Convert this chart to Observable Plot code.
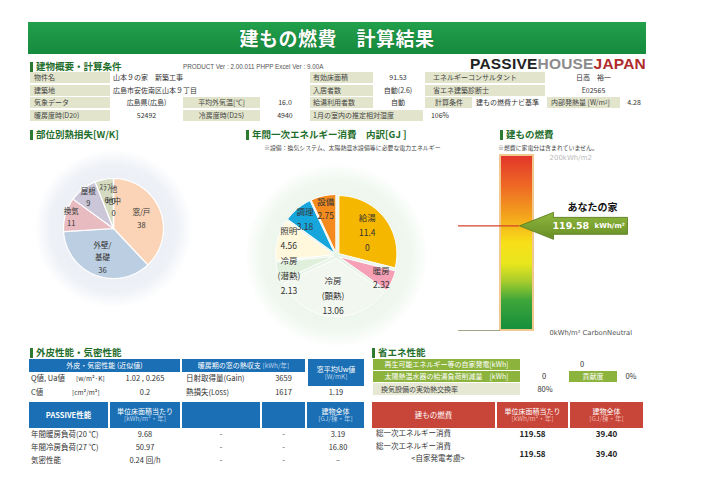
<!DOCTYPE html>
<html><head><meta charset="utf-8">
<script src="https://cdn.jsdelivr.net/npm/d3@7"></script>
<script src="https://cdn.jsdelivr.net/npm/@observablehq/plot@0.6"></script>
<style>
html,body{margin:0;padding:0;background:#fff;}
body{font-family:"Noto Sans CJK JP","Noto Sans",sans-serif;}
#page{position:relative;width:702px;height:496px;overflow:hidden;background:#fff;}
.box{position:absolute;display:flex;align-items:center;box-sizing:border-box;font-size:7px;color:#333;white-space:nowrap;line-height:1.15;}
.c{justify-content:center;text-align:center;}
.lab{background:#e2e5cc;padding-left:4px;color:#444;}
.blue{background:#1b6fb4;color:#fff;flex-direction:column;justify-content:center;text-align:center;}
.red{background:#c8453a;color:#fff;flex-direction:column;justify-content:center;text-align:center;}
.grn{background:#8cb33c;color:#fff;}
.u{color:#b9d3ee;font-size:6.5px;}
.ur{color:#f3b9b0;font-size:6.5px;}
.head{position:absolute;font-size:9.5px;font-weight:bold;color:#1f6e2c;white-space:nowrap;padding-left:6px;line-height:11px;}
.head::before{content:"";position:absolute;left:0;top:1px;width:3px;height:10px;background:#2b7a30;}
.plot{position:absolute;}
</style></head>
<body>
<svg width="0" height="0" style="position:absolute">
  <defs>
    <linearGradient id="gaugeGrad" x1="0" y1="0" x2="0" y2="1">
      <stop offset="0" stop-color="#e2352a"/>
      <stop offset="0.18" stop-color="#ee6a24"/>
      <stop offset="0.36" stop-color="#f4a81c"/>
      <stop offset="0.5" stop-color="#f7df18"/>
      <stop offset="0.62" stop-color="#e9e61c"/>
      <stop offset="0.72" stop-color="#a9cd2c"/>
      <stop offset="0.83" stop-color="#3fa63a"/>
      <stop offset="1" stop-color="#148e3c"/>
    </linearGradient>
    <linearGradient id="arrowGrad" x1="0" y1="0" x2="0" y2="1">
      <stop offset="0" stop-color="#8fb83e"/>
      <stop offset="1" stop-color="#678d24"/>
    </linearGradient>
    <radialGradient id="bg1">
      <stop offset="0" stop-color="#e4e9f1"/>
      <stop offset="0.8" stop-color="#eef1f6"/>
      <stop offset="1" stop-color="#ffffff"/>
    </radialGradient>
    <radialGradient id="bg2">
      <stop offset="0" stop-color="#e6f3e6"/>
      <stop offset="0.8" stop-color="#eff7ef"/>
      <stop offset="1" stop-color="#ffffff"/>
    </radialGradient>
  </defs>
</svg>
<div id="page"></div>
<script>
// ---------- DATA ----------
const titleText = "建もの燃費　計算結果";
const productText = "PRODUCT Ver : 2.00.011  PHPP Excel Ver : 9.00A";

const overviewLabels = ["物件名", "建築地", "気象データ", "暖房度時(D20)"];
const overviewValues = ["山本９の家　新築工事", "広島市安佐南区山本９丁目", "広島県(広島)", "52492"];
const climateLabels = ["平均外気温[℃]", "冷房度時(D25)"];
const climateValues = ["16.0", "4940"];
const conditionLabels = ["有効床面積", "入居者数", "給湯利用者数", "1月の室内の推定相対湿度"];
const conditionValues = ["91.53", "自動(2.6)", "自動", "106%"];
const staffLabels = ["エネルギーコンサルタント", "省エネ建築診断士", "計算条件", "内部発熱量 [W/m²]"];
const staffValues = ["日高　裕一", "E02565", "建もの燃費ナビ基準", "4.28"];

const lossParts = ["窓/戸", "外壁/\n基礎", "換気", "屋根", "ｽﾗﾌﾞ", "地中", "他"];
const lossValues = [38, 36, 11, 9, 6, 0, 0];
const lossColors = ["#fbd4b7", "#bccee1", "#e7bbbf", "#cbc7d8", "#d4dbc0", "#e3d3b2", "#cfcfcf"];

const energyParts = ["給湯", "暖房", "冷房\n(顕熱)", "冷房\n(潜熱)", "照明", "調理", "設備"];
const energyValues = [11.40, 2.32, 13.06, 2.13, 4.56, 3.18, 2.75];
const energyValueLabels = ["11.4\n0", "2.32", "13.06", "2.13", "4.56", "3.18", "2.75"];
const energyColors = ["#f6b700", "#f6a0b6", "#f2f7f0", "#e1f0dc", "#fff8dc", "#17a6dc", "#f58b1f"];
const energyNote = "※設備：換気システム、太陽熱温水設備等に必要な電力エネルギー";

const gaugeMax = 200;
const fuelEconomy = 119.58;
const gaugeTopLabel = "200kWh/m2";
const gaugeBottomLabel = "0kWh/m² CarbonNeutral";
const gaugeNote = "※燃費に家電分は含まれていません。";
const homeLabel = "あなたの家";
const unitLabel = "kWh/m²";

const envelopeHeaders = ["外皮・気密性能 (近似値)", "暖房期の窓の熱収支", "[kWh/年]", "窓平均Uw値", "[W/mK]"];
const envelopeRows = [
  ["Q値, Ua値", "[w/m²·K]", "1.02 , 0.265", "日射取得量(Gain)", "3659", ""],
  ["C値", "[cm²/m²]", "0.2", "熱損失(Loss)", "1617", "1.19"]
];
const passiveHeaders = ["PASSIVE性能", "単位床面積当たり", "[kWh/m²・年]", "建物全体", "[GJ/棟・年]"];
const passiveRows = [
  ["年間暖房負荷(20 ℃)", "9.68", "-", "-", "3.19"],
  ["年間冷房負荷(27 ℃)", "50.97", "-", "-", "16.80"],
  ["気密性能", "0.24 回/h", "-", "-", "–"]
];
const savingLabels = ["再生可能エネルギー等の自家発電[kWh]", "太陽熱温水器の給湯負荷削減量　[kWh]", "換気設備の実効熱交換率"];
const savingValues = ["0", "0", "80%"];
const contributionLabel = "貢献度";
const contributionValue = "0%";
const fuelHeaders = ["建もの燃費", "単位床面積当たり", "[kWh/m²・年]", "建物全体", "[GJ/棟・年]"];
const fuelRows = [
  ["総一次エネルギー消費", "", "119.58", "39.40"],
  ["総一次エネルギー消費", "<自家発電考慮>", "119.58", "39.40"]
];

// ---------- HELPERS ----------
const page = document.getElementById("page");
function box(x, y, w, h, html, cls = "", style = {}) {
  const d = document.createElement("div");
  d.className = "box " + cls;
  Object.assign(d.style, {left: x + "px", top: y + "px", width: w + "px", height: h + "px"}, style);
  d.innerHTML = html;
  page.appendChild(d);
  return d;
}
function head(x, y, text) {
  const d = document.createElement("div");
  d.className = "head";
  d.style.left = x + "px"; d.style.top = y + "px";
  d.textContent = text;
  page.appendChild(d);
}
function place(node, x, y) {
  node.classList.add("plot");
  node.style.left = x + "px"; node.style.top = y + "px";
  page.appendChild(node);
}
const FONT = '"Noto Sans CJK JP", "Noto Sans", sans-serif';

// ---------- TITLE ----------
box(28, 22, 618, 32, titleText, "c", {background: "linear-gradient(#22a04c,#168a3d)", color: "#fff", fontSize: "19px", fontWeight: "bold", letterSpacing: "0.5px", textShadow: "0 0 1px #0b5a22"});
box(480, 55, 166, 17, '<span style="color:#222">PASSIVE</span><span style="color:#8c8c8c">HOUSE</span><span style="color:#b02b2b">JAPAN</span>', "", {fontFamily: '"Liberation Sans", Arial, sans-serif', fontWeight: "bold", fontSize: "15.5px", letterSpacing: "0.2px", justifyContent: "flex-end"});

head(30, 61, "建物概要・計算条件");
box(183, 62, 170, 9, productText, "", {fontFamily: '"Liberation Sans", Arial, sans-serif', fontSize: "6.3px", color: "#555"});

// ---------- OVERVIEW TABLE ----------
const rowY = [72, 84.5, 97, 109.5], rowH = 11;
rowY.forEach((y, i) => {
  box(30, y, 80, rowH, overviewLabels[i], "lab");
  if (i < 2) box(113, y, 190, rowH, overviewValues[i]);
  else box(110, y, 73, rowH, overviewValues[i], "c");
});
[2, 3].forEach((r, k) => {
  box(183, rowY[r], 77, rowH, climateLabels[k], "lab c", {paddingLeft: 0});
  box(260, rowY[r], 50, rowH, climateValues[k], "c");
});
rowY.forEach((y, i) => {
  const w = i === 3 ? 113 : 63;
  box(310, y, w, rowH, conditionLabels[i], "lab", {paddingLeft: "3px"});
  if (i === 3) box(423, y, 34, rowH, conditionValues[i], "c");
  else box(373, y, 50, rowH, conditionValues[i], "c");
});
box(425, rowY[0], 120, rowH, staffLabels[0], "lab", {paddingLeft: "8px"});
box(545, rowY[0], 97, rowH, staffValues[0], "c");
box(425, rowY[1], 120, rowH, staffLabels[1], "lab", {paddingLeft: "8px"});
box(545, rowY[1], 97, rowH, staffValues[1], "c");
box(425, rowY[2], 47, rowH, staffLabels[2], "lab", {paddingLeft: "10px"});
box(476, rowY[2], 70, rowH, staffValues[2]);
box(547, rowY[2], 73, rowH, staffLabels[3].replace("m²", "m<sup style='font-size:4.5px'>2</sup>"), "lab");
box(622, rowY[2], 24, rowH, staffValues[3], "c");

// ---------- PIE HELPERS ----------
function pieGeometry(names, values, o) {
  const {r, explode, bigF, smallF, zeroF, zeroStep} = o;
  const total = d3.sum(values);
  let acc = 0, zeros = 0;
  const rows = [], labels = [];
  names.forEach((name, i) => {
    const a0 = acc / total * 2 * Math.PI; acc += values[i];
    const a1 = acc / total * 2 * Math.PI;
    const mid = (a0 + a1) / 2;
    const ox = explode * Math.sin(mid), oy = explode * Math.cos(mid);
    const n = Math.max(2, Math.ceil((a1 - a0) / (Math.PI / 90)));
    rows.push({name, x: ox, y: oy});
    for (let k = 0; k <= n; k++) {
      const a = a0 + (a1 - a0) * k / n;
      rows.push({name, x: ox + r * Math.sin(a), y: oy + r * Math.cos(a)});
    }
    rows.push({name, x: ox, y: oy});
    const share = values[i] / total;
    const f = values[i] === 0 ? zeroF + zeroStep * (zeros++) : share < 0.15 ? smallF(share) : bigF;
    labels.push({i, name, value: values[i], x: ox + r * f * Math.sin(mid), y: oy + r * f * Math.cos(mid)});
  });
  return {rows, labels};
}
// simple vertical de-overlap of multi-line labels
function relax(labels, textOf, lineH, minDx, iters) {
  labels.forEach(l => l.n = textOf(l).split("\n").length);
  for (let t = 0; t < iters; t++) {
    for (let a = 0; a < labels.length; a++) for (let b = a + 1; b < labels.length; b++) {
      const A = labels[a], B = labels[b];
      if (Math.abs(A.x - B.x) >= minDx) continue;
      const need = (A.n + B.n) * lineH / 2;
      const dy = A.y - B.y;
      if (Math.abs(dy) < need) {
        const push = (need - Math.abs(dy)) / 2, s = dy >= 0 ? 1 : -1;
        A.y += s * push; B.y -= s * push;
      }
    }
  }
}
function piePlot(o) {
  const {names, values, colors, valueText, size, bgR, bgFill, sw, fs, lh, relaxLabels} = o;
  const {rows, labels} = pieGeometry(names, values, o);
  const textOf = d => d.name + "\n" + valueText(d);
  if (relaxLabels) relax(labels, textOf, fs * lh, 16, 40);
  return Plot.plot({
    width: size, height: size, margin: 0,
    x: {domain: [-size / 2, size / 2], axis: null},
    y: {domain: [-size / 2, size / 2], axis: null},
    color: {domain: names, range: colors},
    style: {fontFamily: FONT, background: "transparent", overflow: "visible"},
    marks: [
      Plot.dot([0], {x: () => 0, y: () => 0, r: bgR, fill: bgFill, stroke: null}),
      Plot.line(rows, {x: "x", y: "y", z: "name", fill: "name", stroke: "#fff", strokeWidth: sw, curve: "linear"}),
      Plot.text(labels, {x: "x", y: "y", text: textOf, fontSize: fs, lineHeight: lh, fill: "#333"})
    ]
  });
}

// ---------- PIE 1 ----------
head(30, 129, "部位別熱損失[W/K]");
place(piePlot({
  names: lossParts, values: lossValues, colors: lossColors, valueText: d => String(d.value),
  size: 170, r: 50, explode: 0, bigF: 0.6, smallF: s => 0.55 + 3 * s, zeroF: 0.45, zeroStep: 0.24,
  bgR: 79, bgFill: "url(#bg1)", sw: 1.2, fs: 7.5, lh: 1.65, relaxLabels: false
}), 28, 143);

// ---------- PIE 2 ----------
head(246, 129, "年間一次エネルギー消費　内訳[GJ ]");
box(264, 144, 190, 8, energyNote, "", {fontSize: "5.9px", color: "#444"});
place(piePlot({
  names: energyParts, values: energyValues, colors: energyColors, valueText: d => energyValueLabels[d.i],
  size: 200, r: 58, explode: 3, bigF: 0.62, smallF: () => 0.8, zeroF: 0.5, zeroStep: 0.2,
  bgR: 92, bgFill: "url(#bg2)", sw: 1, fs: 8.5, lh: 1.75, relaxLabels: true
}), 236, 155);

// ---------- GAUGE ----------
head(500, 129, "建もの燃費");
box(498, 144, 110, 8, gaugeNote, "", {fontSize: "5.9px", color: "#444"});
const arrowSymbol = {
  draw(ctx) {
    ctx.moveTo(0, 0); ctx.lineTo(34, -13.5); ctx.lineTo(34, -8.5); ctx.lineTo(108, -8.5);
    ctx.lineTo(108, 8.5); ctx.lineTo(34, 8.5); ctx.lineTo(34, 13.5); ctx.closePath();
  }
};
const gauge = Plot.plot({
  width: 262, height: 200, marginLeft: 0, marginRight: 0, marginTop: 10, marginBottom: 15,
  x: {domain: [440, 702], axis: null},
  y: {domain: [0, gaugeMax], axis: null},
  style: {fontFamily: FONT, background: "transparent", overflow: "visible"},
  marks: [
    Plot.rectY([{lo: 0, hi: gaugeMax}], {x1: 500, x2: 533, y1: "lo", y2: "hi", fill: "url(#gaugeGrad)", stroke: "#f1c98f", strokeWidth: 2}),
    Plot.ruleY([0], {x1: 458, x2: 500, stroke: "#a6a68a", strokeWidth: 1.2}),
    Plot.ruleY([fuelEconomy], {x1: 458, x2: 519, stroke: "#d2452b", strokeWidth: 1.3}),
    Plot.dot([fuelEconomy], {x: () => 519, y: d => d, symbol: arrowSymbol, r: 5, fill: "url(#arrowGrad)", stroke: "#55761c", strokeWidth: 0.8}),
    Plot.text([fuelEconomy], {x: () => 592, y: d => d, dy: -18, text: () => homeLabel, fontSize: 10, fontWeight: "bold", fill: "#111"}),
    Plot.text([fuelEconomy], {x: () => 552, y: d => d, text: d => d.toFixed(2), textAnchor: "start", fontSize: 9.5, fontWeight: "bold", fill: "#fff", fontFamily: '"DejaVu Sans", sans-serif'}),
    Plot.text([fuelEconomy], {x: () => 594, y: d => d, text: () => unitLabel, textAnchor: "start", fontSize: 7, fontWeight: "bold", fill: "#fff", fontFamily: '"DejaVu Sans", sans-serif'}),
    Plot.text([gaugeMax], {x: () => 549, y: d => d, dy: 2, text: () => gaugeTopLabel, textAnchor: "start", fontSize: 7, fill: "#bdbdbd", fontFamily: '"DejaVu Sans", sans-serif'}),
    Plot.text([0], {x: () => 549, y: d => d, dy: 2, text: () => gaugeBottomLabel, textAnchor: "start", fontSize: 6.8, fill: "#555", fontFamily: '"DejaVu Sans", sans-serif'})
  ]
});
place(gauge, 440, 145);

// ---------- ENVELOPE TABLES ----------
head(30, 347, "外皮性能・気密性能");
box(29, 359, 151, 13, envelopeHeaders[0], "blue");
box(182, 359, 123, 13, `<span>${envelopeHeaders[1]} <span class="u">${envelopeHeaders[2]}</span></span>`, "blue");
box(308, 359, 56, 27, `<span>${envelopeHeaders[3]}</span><span class="u">${envelopeHeaders[4]}</span>`, "blue");
envelopeRows.forEach((r, i) => {
  const y = 372 + i * 14;
  box(31, y, 45, 13, r[0], "", {fontSize: "7.5px"});
  box(i === 0 ? 76 : 72, y, 36, 13, r[1], "", {fontSize: "6.5px"});
  box(110, y, 70, 13, r[2], "c", {fontSize: "7.5px"});
  box(186, y, 76, 13, r[3], "", {fontSize: "7.5px"});
  box(262, y, 43, 13, r[4], "c", {fontSize: "7.5px"});
  if (r[5]) box(308, y, 56, 13, r[5], "c", {fontSize: "7.5px"});
});
box(29, 402, 79, 26, `<b style="font-size:7.5px">${passiveHeaders[0]}</b>`, "blue");
box(110, 402, 70, 26, `<span>${passiveHeaders[1]}</span><span class="u">${passiveHeaders[2]}</span>`, "blue");
box(182, 402, 78, 26, "", "blue");
box(262, 402, 43, 26, "", "blue");
box(307, 402, 57, 26, `<span>${passiveHeaders[3]}</span><span class="u">${passiveHeaders[4]}</span>`, "blue");
passiveRows.forEach((r, i) => {
  const y = 428 + i * 13;
  box(31, y, 80, 13, r[0], "", {fontSize: "7.5px"});
  box(110, y, 70, 13, r[1], "c", {fontSize: "7.5px"});
  box(182, y, 78, 13, r[2], "c", {fontSize: "7.5px"});
  box(262, y, 43, 13, r[3], "c", {fontSize: "7.5px"});
  box(307, y, 62, 13, r[4], "c", {fontSize: "7.5px"});
});

// ---------- SAVING TABLES ----------
head(372, 347, "省エネ性能");
box(373, 359, 147, 11, savingLabels[0], "grn c");
box(560, 359, 44, 11, savingValues[0], "c", {fontSize: "7.5px"});
box(373, 371, 147, 11, savingLabels[1], "grn c");
box(522, 371, 44, 11, savingValues[1], "c", {fontSize: "7.5px"});
box(569, 371, 48, 11, contributionLabel, "grn c");
box(619, 371, 24, 11, contributionValue, "c", {fontSize: "7.5px"});
box(373, 383, 147, 12, savingLabels[2], "lab", {paddingLeft: "8px", background: "#e6e8d3"});
box(522, 383, 46, 12, savingValues[2], "c", {fontSize: "7.5px"});
box(372, 402, 123, 26, fuelHeaders[0], "red", {fontSize: "7.5px"});
box(497, 402, 71, 26, `<span>${fuelHeaders[1]}</span><span class="ur">${fuelHeaders[2]}</span>`, "red");
box(570, 402, 73, 26, `<span>${fuelHeaders[3]}</span><span class="ur">${fuelHeaders[4]}</span>`, "red");
fuelRows.forEach((r, i) => {
  const y = i === 0 ? 427 : 440;
  box(376, y, 110, 13, r[0], "", {fontSize: "7.5px"});
  if (r[1]) box(400, y + 12, 76, 12, r[1], "c", {fontSize: "7.5px"});
  const vy = i === 0 ? 427 : 447;
  box(497, vy, 71, 13, r[2], "c", {fontSize: "8px", fontWeight: "bold", color: "#222"});
  box(570, vy, 73, 13, r[3], "c", {fontSize: "8px", fontWeight: "bold", color: "#222"});
});
</script>
</body></html>
